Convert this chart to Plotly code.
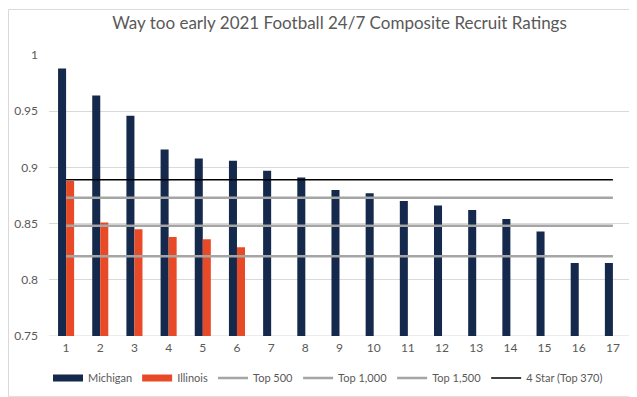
import plotly.graph_objects as go

recruits = list(range(1, 18))
michigan = [0.988, 0.964, 0.946, 0.916, 0.908, 0.906, 0.897, 0.891, 0.880, 0.877,
            0.870, 0.866, 0.862, 0.854, 0.843, 0.815, 0.815]
illinois = [0.888, 0.851, 0.845, 0.838, 0.836, 0.829] + [None] * 11
top500 = 0.873
top1000 = 0.848
top1500 = 0.821
four_star = 0.889

W, H = 637, 397
L, R, T, B = 41, 15, 47, 63
pw, ph = W - L - R, H - T - B

font = "Lato"
tc = "#595959"
navy = "#14294b"
orange = "#e84a27"

fig = go.Figure()
fig.add_trace(go.Bar(x=recruits, y=michigan, name="Michigan", marker_color=navy,
                     marker_line_width=0, showlegend=False))
fig.add_trace(go.Bar(x=recruits, y=illinois, name="Illinois", marker_color=orange,
                     marker_line_width=0, showlegend=False))
# legend entries drawn as wide blocks like the original
fig.add_trace(go.Scatter(x=[None], y=[None], name="Michigan", mode="lines",
                         line=dict(color=navy, width=7)))
fig.add_trace(go.Scatter(x=[None], y=[None], name="Illinois", mode="lines",
                         line=dict(color=orange, width=7)))
for name, val, col, wd in [("Top 500", top500, "#a5a5a5", 2.5),
                           ("Top 1,000", top1000, "#a5a5a5", 2.5),
                           ("Top 1,500", top1500, "#a5a5a5", 2.5),
                           ("4 Star (Top 370)", four_star, "#000000", 1.5)]:
    fig.add_trace(go.Scatter(x=recruits, y=[val] * len(recruits), name=name, mode="lines",
                             line=dict(color=col, width=wd)))

fig.update_layout(
    width=W, height=H,
    margin=dict(l=L, r=R, t=T, b=B),
    paper_bgcolor="white", plot_bgcolor="white",
    barmode="group", bargap=0.53, bargroupgap=0,
    title=dict(text="Way too early 2021 Football 24/7 Composite Recruit Ratings",
               x=0.5, xref="paper", xanchor="center", y=1 - 15 / H, yanchor="middle",
               font=dict(family=font, size=17, color=tc)),
    font=dict(family=font, size=12, color=tc),
    showlegend=True,
    legend=dict(orientation="h", x=(320 - L) / pw, xanchor="center",
                y=(ph - (377 - T)) / ph, yanchor="middle",
                font=dict(family=font, size=11, color=tc), traceorder="normal",
                itemwidth=30, tracegroupgap=0),
    xaxis=dict(range=[0.5, 17.5], tickmode="array", tickvals=recruits,
               ticktext=[str(r) for r in recruits], showgrid=False, zeroline=False,
               showline=False, ticks="", ticklabelstandoff=3, automargin=False,
               tickfont=dict(size=12, color=tc)),
    yaxis=dict(range=[0.75, 1.0], tickmode="array",
               tickvals=[0.75, 0.8, 0.85, 0.9, 0.95, 1.0],
               ticktext=["0.75", "0.8", "0.85", "0.9", "0.95", "1"],
               showgrid=True, gridcolor="#d9d9d9", gridwidth=1, zeroline=False,
               showline=False, ticks="", ticklabelstandoff=10, automargin=False,
               tickfont=dict(size=12, color=tc)),
)
fig.add_shape(type="line", xref="paper", yref="y", x0=0, x1=1, y0=0.75, y1=0.75,
              line=dict(color="#d9d9d9", width=1), layer="below")
fig.add_shape(type="rect", xref="paper", yref="paper",
              x0=(0.5 - L) / pw, x1=(636 - L) / pw,
              y0=(ph - (396 - T)) / ph, y1=(ph - (0.5 - T)) / ph,
              line=dict(color="#d9d9d9", width=1))
fig.write_html("out.html")
